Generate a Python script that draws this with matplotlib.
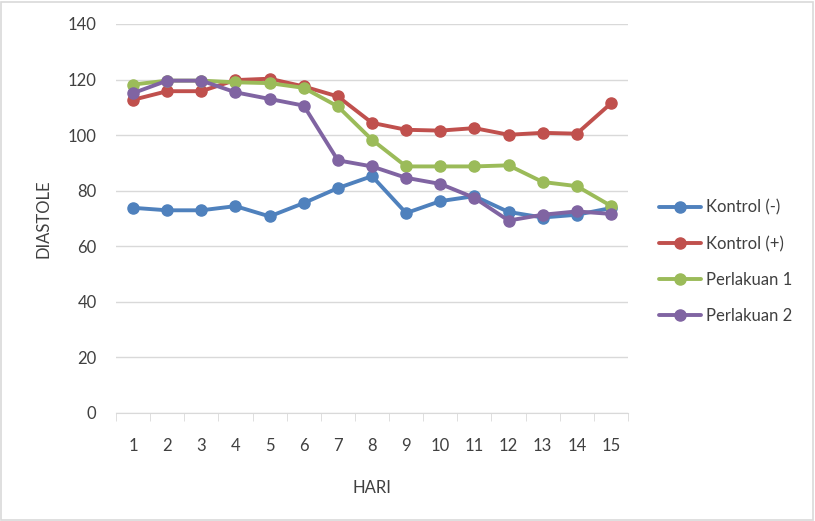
import numpy as np
import matplotlib
matplotlib.use("Agg")
import matplotlib.pyplot as plt
from matplotlib.patches import Rectangle

plt.rcParams['font.family'] = ['Lato', 'DejaVu Sans']

hari = list(range(1, 16))
kontrol_neg = [73.8, 72.9, 72.9, 74.4, 70.7, 75.5, 80.9, 85.2, 71.9, 76.2, 78.0, 72.3, 70.3, 71.3, 73.7]
kontrol_pos = [112.7, 115.8, 115.8, 119.8, 120.3, 117.5, 113.9, 104.4, 101.9, 101.6, 102.5, 100.1, 100.8, 100.5, 111.4]
perlakuan1 = [118.2, 119.6, 119.6, 119.0, 118.7, 117.0, 110.3, 98.3, 88.7, 88.7, 88.7, 89.1, 83.1, 81.6, 74.5]
perlakuan2 = [115.1, 119.6, 119.6, 115.4, 113.0, 110.6, 90.9, 88.7, 84.6, 82.4, 77.4, 69.2, 71.3, 72.5, 71.6]

series = [
    ("Kontrol (-)", kontrol_neg, "#4F81BD"),
    ("Kontrol (+)", kontrol_pos, "#C0504D"),
    ("Perlakuan 1", perlakuan1, "#9BBB59"),
    ("Perlakuan 2", perlakuan2, "#8064A2"),
]

fig = plt.figure(figsize=(8.15, 5.21), dpi=100)
fig.patches.append(Rectangle((0.001, 0.001), 0.997, 0.996, transform=fig.transFigure,
                             fill=False, edgecolor="#D9D9D9", linewidth=1.2))
ax = fig.add_axes([116 / 815, 1 - 412.7 / 521, 512 / 815, 388.7 / 521])

x = np.arange(len(hari))
for name, vals, col in series:
    ax.plot(x, vals, color=col, linewidth=2.8, marker='o', markersize=8,
            markeredgecolor=col, label=name, solid_capstyle='round', zorder=3)

ax.set_xlim(-0.5, len(hari) - 0.5)
ax.set_ylim(0, 140)
ax.set_yticks(range(0, 141, 20))
ax.yaxis.grid(True, color="#D9D9D9", linewidth=1)
ax.set_axisbelow(True)

ax.set_xticks(x)
ax.set_xticklabels([str(h) for h in hari])
ax.set_xticks(np.arange(-0.5, len(hari)), minor=True)
ax.tick_params(axis='x', which='major', length=0, pad=18, labelsize=12, labelcolor="#404040")
ax.tick_params(axis='x', which='minor', length=6, color="#D9D9D9", direction='out')
ax.tick_params(axis='y', length=0, pad=14, labelsize=12, labelcolor="#404040")

for s in ['top', 'right', 'left']:
    ax.spines[s].set_visible(False)
ax.spines['bottom'].set_color("#D9D9D9")

ax.set_xlabel("HARI", fontsize=12, color="#404040", labelpad=19)
ax.set_ylabel("DIASTOLE", fontsize=12, color="#404040", labelpad=12)

leg = ax.legend(loc='center left', bbox_to_anchor=(1.031, 0.388), frameon=False,
                fontsize=12, labelspacing=1.2, handlelength=2.5, handletextpad=0.35)
for t in leg.get_texts():
    t.set_color("#404040")

plt.savefig("out.png", dpi=100)
